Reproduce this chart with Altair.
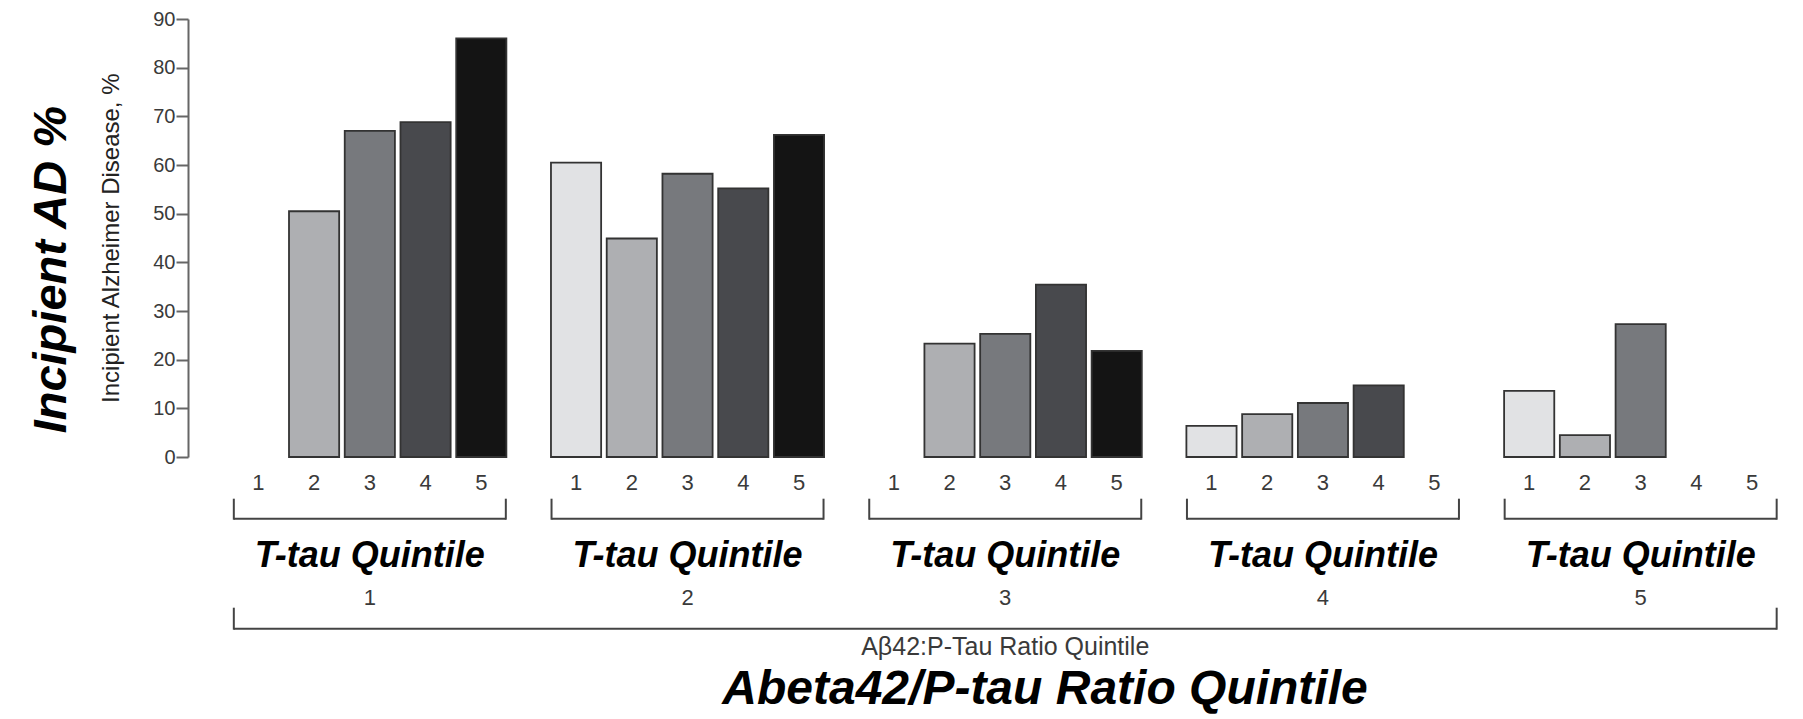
import altair as alt
import pandas as pd

# Incipient AD (%) by T-tau quintile (1-5) inside each Aβ42:P-tau ratio quintile.
# None means no bar is drawn for that cell.
ttau_quintiles = [1, 2, 3, 4, 5]
ratio_quintiles = [1, 2, 3, 4, 5]
ratio_q1 = [None, 50.5, 67.0, 68.8, 86.0]
ratio_q2 = [60.5, 44.9, 58.2, 55.2, 66.2]
ratio_q3 = [None, 23.3, 25.3, 35.4, 21.8]
ratio_q4 = [6.4, 8.8, 11.1, 14.7, None]
ratio_q5 = [13.6, 4.5, 27.3, None, None]

y_ticks = [0, 10, 20, 30, 40, 50, 60, 70, 80, 90]
bar_fills = ["#e1e2e4", "#aeafb2", "#77797d", "#48494d", "#141414"]

y_title = "Incipient Alzheimer Disease, %"
big_y_title = "Incipient AD %"
group_label = "T-tau Quintile"
ratio_axis_label = "Aβ42:P-Tau Ratio Quintile"
big_x_title = "Abeta42/P-tau Ratio Quintile"

series = [ratio_q1, ratio_q2, ratio_q3, ratio_q4, ratio_q5]
rows = []
for rq, vals in zip(ratio_quintiles, series):
    for tq, v in zip(ttau_quintiles, vals):
        rows.append({"ratio": rq, "ttau": tq, "pct": v})
bars_df = pd.DataFrame(rows)
groups_df = pd.DataFrame({"ratio": ratio_quintiles})

# layout: one x unit per bar slot, groups separated by a wider gap
STRIDE = 5.70
HALF_BAR = 0.45
BRACKET_PAD = 0.44
W, H = 1587, 438
FONT = "Liberation Sans"

pos_expr = f"(datum.ratio - 1) * {STRIDE} + (datum.ttau - 1)"
xscale = alt.Scale(domain=[-1.262, 27.21], nice=False, zero=False)
yscale = alt.Scale(domain=[0, 90], nice=False)

base = alt.Chart(bars_df).transform_calculate(pos=pos_expr)

bars = base.transform_filter("isValid(datum.pct)").transform_calculate(
    left=f"datum.pos - {HALF_BAR}", right=f"datum.pos + {HALF_BAR}"
).mark_bar(stroke="#333333", strokeWidth=1.8).encode(
    x=alt.X("left:Q", scale=xscale,
            axis=alt.Axis(domain=True, domainColor="#3a3a3a", domainWidth=2,
                          ticks=False, labels=False, grid=False, title=None)),
    x2="right:Q",
    y=alt.Y("pct:Q", scale=yscale,
            axis=alt.Axis(values=y_ticks, grid=False, title=None,
                          domainColor="#666", domainWidth=2,
                          tickColor="#666", tickWidth=2, tickSize=12,
                          labelFont=FONT, labelFontSize=20, labelColor="#3a3a3a",
                          labelPadding=1)),
    y2=alt.datum(0),
    color=alt.Color("ttau:O", scale=alt.Scale(domain=ttau_quintiles, range=bar_fills),
                    legend=None),
)

tick_labels = base.mark_text(font=FONT, fontSize=22, color="#3a3a3a",
                             baseline="middle").encode(
    x=alt.X("pos:Q", scale=xscale, axis=None),
    y=alt.value(463.7),
    text="ttau:N",
)

grp = alt.Chart(groups_df).transform_calculate(
    left=f"(datum.ratio - 1) * {STRIDE} - {BRACKET_PAD}",
    right=f"(datum.ratio - 1) * {STRIDE} + 4 + {BRACKET_PAD}",
    center=f"(datum.ratio - 1) * {STRIDE} + 2",
)
rule_style = dict(color="#444", strokeWidth=2)

grp_h = grp.mark_rule(**rule_style).encode(
    x=alt.X("left:Q", scale=xscale, axis=None), x2="right:Q", y=alt.value(499.7))
grp_l = grp.mark_rule(**rule_style).encode(
    x=alt.X("left:Q", scale=xscale, axis=None), y=alt.value(479.7), y2=alt.value(500.7))
grp_r = grp.mark_rule(**rule_style).encode(
    x=alt.X("right:Q", scale=xscale, axis=None), y=alt.value(479.7), y2=alt.value(500.7))

grp_title = grp.mark_text(font=FONT, fontSize=36, fontWeight="bold", fontStyle="italic",
                          color="#000", baseline="middle").encode(
    x=alt.X("center:Q", scale=xscale, axis=None),
    y=alt.value(536.7),
    text=alt.value(group_label),
)
grp_num = grp.mark_text(font=FONT, fontSize=22, color="#3a3a3a",
                        baseline="middle").encode(
    x=alt.X("center:Q", scale=xscale, axis=None),
    y=alt.value(578.7),
    text="ratio:N",
)

span = grp.transform_aggregate(lo="min(left)", hi="max(right)").transform_calculate(
    mid="(datum.lo + datum.hi) / 2")
big_h = span.mark_rule(**rule_style).encode(
    x=alt.X("lo:Q", scale=xscale, axis=None), x2="hi:Q", y=alt.value(609.7))
big_l = span.mark_rule(**rule_style).encode(
    x=alt.X("lo:Q", scale=xscale, axis=None), y=alt.value(588.7), y2=alt.value(610.7))
big_r = span.mark_rule(**rule_style).encode(
    x=alt.X("hi:Q", scale=xscale, axis=None), y=alt.value(588.7), y2=alt.value(610.7))
ratio_lbl = span.mark_text(font=FONT, fontSize=25, color="#3a3a3a",
                           baseline="middle").encode(
    x=alt.X("mid:Q", scale=xscale, axis=None),
    y=alt.value(627.7),
    text=alt.value(ratio_axis_label),
)

one = alt.Chart(pd.DataFrame({"k": [0]}))
x_title = one.mark_text(font=FONT, fontSize=48, fontWeight="bold", fontStyle="italic",
                        color="#000", baseline="middle").encode(
    x=alt.value(857), y=alt.value(670.7), text=alt.value(big_x_title))
y_small_title = one.mark_text(font=FONT, fontSize=24, color="#222", angle=270,
                              baseline="middle").encode(
    x=alt.value(-76), y=alt.value(219.2), text=alt.value(y_title))
y_big_title = one.mark_text(font=FONT, fontSize=47, fontWeight="bold", fontStyle="italic",
                            color="#000", angle=270, baseline="middle").encode(
    x=alt.value(-136), y=alt.value(250.7), text=alt.value(big_y_title))

chart = alt.layer(
    bars, tick_labels, grp_h, grp_l, grp_r, grp_title, grp_num,
    big_h, big_l, big_r, ratio_lbl, x_title, y_small_title, y_big_title,
).properties(
    width=W, height=H,
    autosize=alt.AutoSizeParams(type="none"),
    padding={"left": 188, "top": 19, "right": 28, "bottom": 262},
    background="white",
).configure_view(stroke=None)

chart.save("out.html", embed_options={"renderer": "svg", "actions": False})
